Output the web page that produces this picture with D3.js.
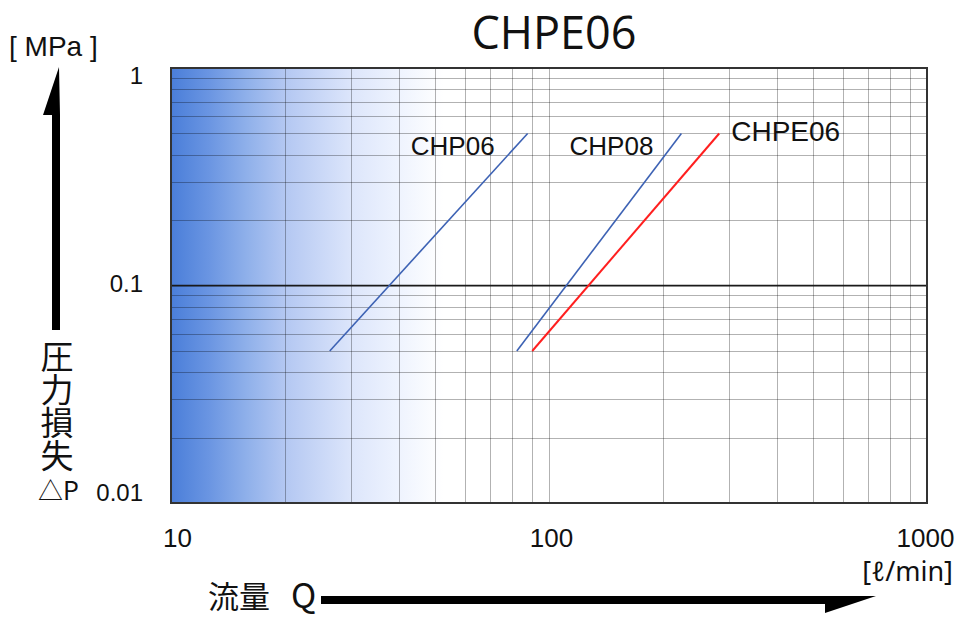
<!DOCTYPE html>
<html>
<head>
<meta charset="utf-8">
<script src="https://cdn.jsdelivr.net/npm/d3@7"></script>
<style>
  body { margin: 0; background: #fff; }
  svg { display: block; }
  .grid line { stroke: #000; stroke-opacity: 0.3; stroke-width: 1; shape-rendering: crispEdges; }
  .tick-label { font-family: "Liberation Sans", Arial, sans-serif; fill: #111; }
</style>
</head>
<body>
<svg id="chart" width="960" height="618"></svg>
<script>
// chart data
const seriesNames = ['CHP06', 'CHP08', 'CHPE06'];
const flowStart = [26.3, 82.2, 90.3];     // l/min at the low end of each line
const flowEnd = [87.8, 224, 282];         // l/min at the high end
const dropStart = [0.05, 0.05, 0.05];     // MPa
const dropEnd = [0.5, 0.5, 0.5];          // MPa
const seriesColors = ['#3d62b4', '#3d62b4', '#ff1f1f'];

const xTickValues = [10, 100, 1000];
const xTickLabels = ['10', '100', '1000'];
const yTickValues = [1, 0.1, 0.01];
const yTickLabels = ['1', '0.1', '0.01'];

const svg = d3.select('#chart');
const width = 960, height = 618;
const margin = { top: 68, right: 33, bottom: 115, left: 171 };
const plotW = width - margin.left - margin.right;
const plotH = height - margin.top - margin.bottom;

const x = d3.scaleLog().domain([10, 1000]).range([margin.left, margin.left + plotW]);
const y = d3.scaleLog().domain([0.01, 1]).range([margin.top + plotH, margin.top]);

// gradient background (blue on the left fading to white)
const defs = svg.append('defs');
const grad = defs.append('linearGradient').attr('id', 'bgGrad')
  .attr('x1', '0%').attr('x2', '100%').attr('y1', '0%').attr('y2', '0%');
[[0, '#4a7ed9'], [0.05, '#6a95e2'], [0.1, '#8fb0ea'], [0.15, '#b3c7f2'], [0.24, '#dde6fb'], [0.3, '#eef3fe'], [0.36, '#ffffff'], [1, '#ffffff']]
  .forEach(s => grad.append('stop').attr('offset', s[0]).attr('stop-color', s[1]));

svg.append('rect')
  .attr('x', margin.left).attr('y', margin.top)
  .attr('width', plotW).attr('height', plotH)
  .attr('fill', 'url(#bgGrad)');

// log grid: 1..9 in every decade
const decadeTicks = (lo, hi) => {
  const out = [];
  for (let d = lo; d < hi; d *= 10) {
    for (let k = 1; k <= 9; k++) out.push(d * k);
  }
  out.push(hi);
  return out;
};

const grid = svg.append('g').attr('class', 'grid');
grid.selectAll('.vx')
  .data(decadeTicks(10, 1000))
  .enter().append('line')
  .attr('x1', d => Math.round(x(d)) + 0.5).attr('x2', d => Math.round(x(d)) + 0.5)
  .attr('y1', margin.top).attr('y2', margin.top + plotH);
grid.selectAll('.hy')
  .data(decadeTicks(0.01, 1))
  .enter().append('line')
  .attr('x1', margin.left).attr('x2', margin.left + plotW)
  .attr('y1', d => Math.round(y(d)) + 0.5).attr('y2', d => Math.round(y(d)) + 0.5);

// darker 0.1 MPa line
svg.append('line')
  .attr('x1', margin.left).attr('x2', margin.left + plotW)
  .attr('y1', y(0.1)).attr('y2', y(0.1))
  .attr('stroke', '#1a1a1a').attr('stroke-width', 1.5);

// frame
svg.append('rect')
  .attr('x', margin.left).attr('y', margin.top)
  .attr('width', plotW).attr('height', plotH)
  .attr('fill', 'none').attr('stroke', '#333').attr('stroke-width', 2);

// series lines
const lineGen = d3.line().x(d => x(d[0])).y(d => y(d[1]));
seriesNames.forEach((name, i) => {
  const pts = [[flowStart[i], dropStart[i]], [flowEnd[i], dropEnd[i]]];
  svg.append('path')
    .attr('d', lineGen(pts))
    .attr('fill', 'none')
    .attr('stroke', seriesColors[i])
    .attr('stroke-width', i === 2 ? 2 : 1.6);

  // label beside the top end of the line
  const ex = x(flowEnd[i]), ey = y(dropEnd[i]);
  const onRight = i === 2;
  svg.append('text')
    .attr('x', onRight ? ex + 12 : ex - (i === 0 ? 33 : 28))
    .attr('y', onRight ? ey + 8 : ey + 22)
    .attr('text-anchor', onRight ? 'start' : 'end')
    .attr('font-family', '"Liberation Sans", Arial, sans-serif')
    .attr('font-size', onRight ? 28 : 26)
    .attr('fill', '#111')
    .text(name);
});

// x axis tick labels
const xAxis = d3.axisBottom(x).tickValues(xTickValues).tickFormat((d, i) => xTickLabels[i]).tickSize(0);
const gx = svg.append('g').attr('transform', `translate(0,${margin.top + plotH})`).call(xAxis);
gx.select('.domain').remove();
gx.selectAll('text')
  .attr('class', 'tick-label')
  .attr('font-size', 26)
  .attr('y', 44).attr('dy', 0)
  .attr('dx', (d, i) => i === 0 ? 6 : (i === 2 ? -2 : 2));

// y axis tick labels
const yAxis = d3.axisLeft(y).tickValues(yTickValues).tickFormat((d, i) => yTickLabels[i]).tickSize(0);
const gy = svg.append('g').attr('transform', `translate(${margin.left - 28},0)`).call(yAxis);
gy.select('.domain').remove();
gy.selectAll('text')
  .attr('class', 'tick-label')
  .attr('font-size', 24)
  .attr('x', 0)
  .attr('dy', (d, i) => i === 0 ? '0.66em' : (i === 2 ? '-0.1em' : '0.25em'));

// titles
svg.append('text')
  .attr('x', (margin.left + margin.left + plotW) / 2 + 5).attr('y', 49)
  .attr('text-anchor', 'middle')
  .attr('font-family', '"Open Sans", "Noto Sans", sans-serif')
  .attr('font-size', 45)
  .attr('fill', '#111')
  .text('CHPE06');

svg.append('text')
  .attr('x', 9).attr('y', 56)
  .attr('font-family', '"Liberation Sans", Arial, sans-serif')
  .attr('font-size', 28).attr('fill', '#111')
  .text('[ MPa ]');

svg.append('text')
  .attr('x', width - 7).attr('y', 581)
  .attr('text-anchor', 'end')
  .attr('font-family', '"Noto Sans", "DejaVu Sans", sans-serif')
  .attr('font-size', 27).attr('fill', '#111')
  .text('[\u2113/min]');

// vertical y-axis caption, set top to bottom
svg.append('text')
  .attr('x', 57).attr('y', 340)
  .attr('writing-mode', 'vertical-rl')
  .attr('font-family', '"Noto Sans CJK JP", sans-serif')
  .attr('font-size', 33).attr('fill', '#111')
  .text('圧力損失');

svg.append('text')
  .attr('x', 38).attr('y', 500)
  .attr('font-family', '"Noto Sans CJK JP", "Liberation Sans", sans-serif')
  .attr('font-size', 25).attr('fill', '#111')
  .text('△P');

const qLabel = svg.append('text')
  .attr('x', 208).attr('y', 608)
  .attr('fill', '#111');
qLabel.append('tspan')
  .attr('font-family', '"Noto Sans CJK JP", sans-serif')
  .attr('font-size', 31)
  .text('流量');
qLabel.append('tspan')
  .attr('x', 291)
  .attr('font-family', '"Noto Sans CJK JP", sans-serif')
  .attr('font-size', 34)
  .text('Q');

// arrows
svg.append('path')
  .attr('d', 'M52,330 L52,115 L43,115 L59,67 L60,115 L60,330 Z')
  .attr('fill', '#000');
svg.append('path')
  .attr('d', 'M321,596 L876,596 L825,613 L825,604 L321,604 Z')
  .attr('fill', '#000');
</script>
</body>
</html>
